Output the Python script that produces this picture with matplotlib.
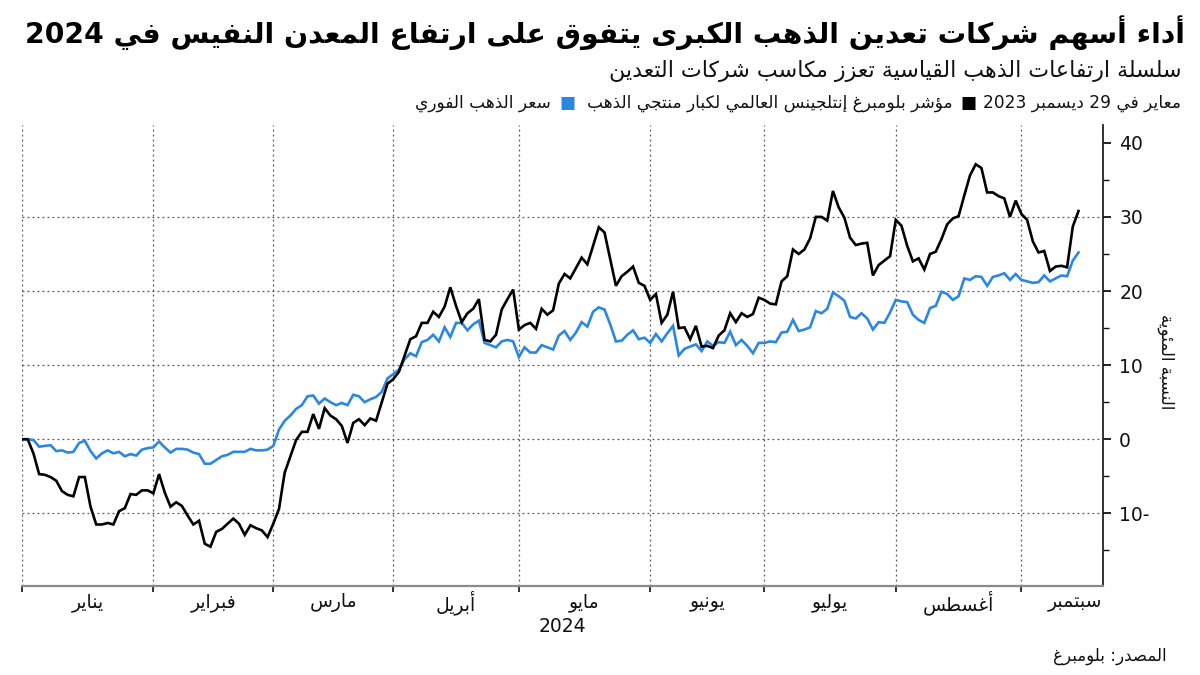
import re
import numpy as np
import matplotlib
matplotlib.use("Agg")
import matplotlib.pyplot as plt

# ---------------- data ----------------
title = "أداء أسهم شركات تعدين الذهب الكبرى يتفوق على ارتفاع المعدن النفيس في 2024"
subtitle = "سلسلة ارتفاعات الذهب القياسية تعزز مكاسب شركات التعدين"
note = "معاير في 29 ديسمبر 2023"
series_names = ["مؤشر بلومبرغ إنتلجينس العالمي لكبار منتجي الذهب", "سعر الذهب الفوري"]
series_colors = ["#000000", "#2b87e0"]
months = ["يناير", "فبراير", "مارس", "أبريل", "مايو", "يونيو", "يوليو", "أغسطس", "سبتمبر"]
month_start_idx = [0, 23, 44, 65, 87, 110, 130, 153, 175]
year_label = "2024"
y_ticks = [-10, 0, 10, 20, 30, 40]
y_tick_labels = ["10-", "0", "10", "20", "30", "40"]
y_label = "النسبة المئوية"
source = "المصدر: بلومبرغ"

miners = [
    0, 0, -1.9, -4.7, -4.8, -5.1, -5.6, -7.0, -7.5, -7.7, -5.1, -5.1, -9.1, -11.5, -11.5, -11.3,
    -11.5, -9.7, -9.3, -7.4, -7.5, -6.9, -6.9, -7.3, -4.7, -7.2, -9.1, -8.5, -9.0, -10.3, -11.5,
    -11.0, -14.1, -14.5, -12.5, -12.1, -11.4, -10.7, -11.4, -12.9, -11.6, -12.0, -12.3, -13.2,
    -11.4, -9.4, -4.5, -2.3,
    -0.1, 1.0, 1.0, 3.4, 1.4, 4.2, 3.2, 2.7, 1.8, -0.5, 2.2, 2.7, 1.9, 2.8, 2.5, 5.0, 7.5, 8.1,
    9.1, 11.3, 13.5, 13.9, 15.7, 15.7, 17.2, 16.5, 17.9, 20.5, 18.0, 15.8, 17.0, 17.6, 18.9, 13.4,
    13.2, 14.1, 17.5, 18.9, 20.2, 14.8, 15.4, 15.7, 14.9, 17.6, 16.8, 17.4, 21.0,
    22.3, 21.7, 23.1, 24.5, 23.6, 26.1, 28.6, 27.9, 24.3, 20.7, 22.0, 22.6, 23.3, 21.1, 20.7, 18.8,
    19.6, 15.7, 16.8, 19.9, 15.0, 15.1, 13.5, 15.3, 12.5, 12.6, 12.3, 14.0, 14.7, 17.0, 15.8, 17.0,
    16.5, 16.9, 19.1, 18.8, 18.3, 18.2, 21.3, 22.0, 25.6, 25.0, 25.6, 27.1, 30.0, 30.0, 29.5,
    33.5, 31.3, 29.9, 27.2, 26.2, 26.4, 26.5, 22.1, 23.5, 24.1, 24.7, 29.6, 28.8, 26.1, 24.0, 24.4,
    22.9, 25.0, 25.3, 27.0, 29.0, 29.8, 30.1, 32.9, 35.6, 37.1, 36.6, 33.3, 33.3, 32.8, 32.5, 30.0,
    32.2, 30.4, 29.6, 26.7, 25.2, 25.4, 22.7, 23.3, 23.4, 23.2, 28.7, 30.8,
]
gold = [
    0, 0, -0.1, -1.0, -0.9, -0.8, -1.6, -1.5, -1.8, -1.7, -0.5, -0.2, -1.6, -2.6, -1.9, -1.5, -1.9,
    -1.7, -2.3, -2.0, -2.2, -1.4, -1.2, -1.1, -0.3, -1.1, -1.8, -1.3, -1.3, -1.4, -1.8, -2.0, -3.3,
    -3.3, -2.8, -2.3, -2.1, -1.7, -1.7, -1.7, -1.3, -1.5, -1.5, -1.4, -0.9, 1.3, 2.5, 3.2,
    4.1, 4.6, 5.8, 5.9, 4.8, 5.5, 5.0, 4.6, 4.9, 4.6, 6.0, 5.8, 5.0, 5.4, 5.7, 6.4, 8.2, 8.8, 9.4,
    10.8, 11.6, 11.2, 13.1, 13.4, 14.1, 13.2, 15.1, 13.8, 15.7, 15.7, 14.7, 15.5, 16.0, 13.0, 12.7,
    12.4, 13.2, 13.4, 13.2, 11.1, 12.4, 11.7, 11.7, 12.7, 12.4, 12.1, 14.0,
    14.6, 13.4, 14.4, 15.8, 15.2, 17.2, 17.8, 17.5, 15.5, 13.2, 13.3, 14.1, 14.7, 13.5, 13.7, 13.0,
    14.2, 13.2, 14.3, 15.3, 11.3, 12.2, 12.5, 12.8, 11.9, 13.2, 12.6, 13.1, 13.0, 14.5, 12.7, 13.4,
    12.6, 11.6, 13.0, 13.0, 13.2, 13.1, 14.4, 14.5, 16.1, 14.6, 14.8, 15.1, 17.3, 17.0, 17.6,
    19.8, 19.3, 18.7, 16.5, 16.3, 17.0, 16.3, 14.8, 15.8, 15.7, 17.1, 18.8, 18.6, 18.5, 16.8, 16.1,
    15.7, 17.7, 18.0, 19.9, 19.6, 18.8, 19.3, 21.7, 21.5, 22.0, 21.9, 20.7, 21.9, 22.1, 22.4, 21.5,
    22.3, 21.5, 21.3, 21.1, 21.2, 22.1, 21.3, 21.7, 22.1, 22.0, 24.1, 25.2,
]

# ---------------- Arabic shaping (presentation forms + visual order) ----------------
_DUAL = {'ئ': 0xFE89, 'ب': 0xFE8F, 'ت': 0xFE95, 'ث': 0xFE99, 'ج': 0xFE9D, 'ح': 0xFEA1,
         'خ': 0xFEA5, 'س': 0xFEB1, 'ش': 0xFEB5, 'ص': 0xFEB9, 'ض': 0xFEBD, 'ط': 0xFEC1,
         'ظ': 0xFEC5, 'ع': 0xFEC9, 'غ': 0xFECD, 'ف': 0xFED1, 'ق': 0xFED5, 'ك': 0xFED9,
         'ل': 0xFEDD, 'م': 0xFEE1, 'ن': 0xFEE5, 'ه': 0xFEE9, 'ي': 0xFEF1}
_RIGHT = {'آ': 0xFE81, 'أ': 0xFE83, 'ؤ': 0xFE85, 'إ': 0xFE87, 'ا': 0xFE8D, 'ة': 0xFE93,
          'د': 0xFEA9, 'ذ': 0xFEAB, 'ر': 0xFEAD, 'ز': 0xFEAF, 'و': 0xFEED, 'ى': 0xFEEF}
_NONJ = {'ء': 0xFE80}
_LAMALEF = {'آ': 0xFEF5, 'أ': 0xFEF7, 'إ': 0xFEF9, 'ا': 0xFEFB}


def _shape(s):
    out = []
    prev = False
    i, n = 0, len(s)
    while i < n:
        c = s[i]
        if c == 'ل' and i + 1 < n and s[i + 1] in _LAMALEF:
            out.append(chr(_LAMALEF[s[i + 1]] + (1 if prev else 0)))
            prev = False
            i += 2
            continue
        nxt = s[i + 1] if i + 1 < n else ''
        nxt_j = nxt in _DUAL or nxt in _RIGHT
        if c in _DUAL:
            if prev and nxt_j:
                off = 3
            elif prev:
                off = 1
            elif nxt_j:
                off = 2
            else:
                off = 0
            out.append(chr(_DUAL[c] + off))
            prev = True
        elif c in _RIGHT:
            out.append(chr(_RIGHT[c] + (1 if prev else 0)))
            prev = False
        elif c in _NONJ:
            out.append(chr(_NONJ[c]))
            prev = False
        else:
            out.append(c)
            prev = False
        i += 1
    return ''.join(out)


def ar(s):
    sh = _shape(s)
    runs = re.findall(r'[0-9A-Za-z%.,]+|[^0-9A-Za-z%.,]+', sh)
    out = []
    for r in reversed(runs):
        if re.match(r'[0-9A-Za-z%.,]', r):
            out.append(r)
        else:
            out.append(r[::-1])
    return ''.join(out)


# ---------------- figure ----------------
plt.rcParams['font.family'] = ['DejaVu Sans']
W, H = 1200, 675
fig = plt.figure(figsize=(W / 100, H / 100), dpi=100)
fig.patch.set_facecolor('white')

ax_l, ax_r, ax_b, ax_t = 22, 1102.5, 586, 125
ax = fig.add_axes([ax_l / W, 1 - ax_b / H, (ax_r - ax_l) / W, (ax_b - ax_t) / H])

x = np.arange(len(miners))
ax.plot(x, gold, color=series_colors[1], lw=1.9, zorder=3, solid_joinstyle='miter')
ax.plot(x, miners, color=series_colors[0], lw=1.9, zorder=4, solid_joinstyle='miter')

ax.set_xlim(0, 189.2)
ax.set_ylim(-19.8, 42.4)

grid_kw = dict(color='#555555', lw=0.9, ls=(0, (1.5, 2.5)), zorder=1)
for yv in y_ticks[:-1]:
    ax.axhline(yv, **grid_kw)
for xv in month_start_idx:
    ax.axvline(xv, **grid_kw)

for s in ['top', 'left']:
    ax.spines[s].set_visible(False)
ax.spines['bottom'].set_color('#8a8a8a')
ax.spines['bottom'].set_linewidth(1.6)
ax.spines['right'].set_color('#222222')
ax.spines['right'].set_linewidth(1.3)

ax.yaxis.tick_right()
ax.set_yticks(y_ticks)
ax.set_yticklabels(y_tick_labels, fontsize=13.5)
ax.set_yticks([-15, -5, 5, 15, 25, 35], minor=True)
ax.tick_params(axis='y', which='major', direction='out', length=6, width=1.3, pad=6, colors='#111111')
ax.tick_params(axis='y', which='minor', direction='out', length=4, width=1.0, colors='#111111')

ax.set_xticks(month_start_idx)
ax.set_xticklabels([])
ax.tick_params(axis='x', which='major', direction='out', length=4, width=1.2, colors='#111111')

xmax = ax.get_xlim()[1]
bounds = month_start_idx + [xmax]
for k, m in enumerate(months):
    if k < len(months) - 1:
        xm, ha = (bounds[k] + bounds[k + 1]) / 2, 'center'
    else:
        xm, ha = xmax, 'right'
    ax.annotate(ar(m), xy=(xm, 0), xycoords=('data', 'axes fraction'), xytext=(0, -17),
                textcoords='offset pixels', ha=ha, va='center', fontsize=13.5, color='#111111')
ax.annotate(year_label, xy=(0.5, 0), xycoords='axes fraction', xytext=(0, -40),
            textcoords='offset pixels', ha='center', va='center', fontsize=13.5, color='#111111')

fig.text(1166 / W, 1 - 362 / H, ar(y_label), rotation=270, ha='center', va='center',
         fontsize=12, color='#111111')

fig.canvas.draw()
renderer = fig.canvas.get_renderer()


def fit(t, target):
    w = t.get_window_extent(renderer).width
    t.set_fontsize(t.get_fontsize() * target / w)


t_title = fig.text(1185 / W, 1 - 33 / H, ar(title), ha='right', va='center', fontsize=22,
                   fontweight='bold', color='#000000')
fit(t_title, 1185 - 28)
t_sub = fig.text(1182 / W, 1 - 71 / H, ar(subtitle), ha='right', va='center', fontsize=16,
                 color='#111111')
fit(t_sub, 1182 - 608)

# legend row (right to left)
pieces = [(ar(note), '#111111', 6), ('■', series_colors[0], 8), (ar(series_names[0]), '#111111', 12),
          ('■', series_colors[1], 8), (ar(series_names[1]), '#111111', 0)]


def place_row(fs, draw):
    xr = 1181
    made = []
    for txt, col, gap in pieces:
        t = fig.text(xr / W, 1 - 103 / H, txt, ha='right', va='center', fontsize=fs, color=col)
        w = t.get_window_extent(renderer).width
        xr -= w + gap
        made.append(t)
    if not draw:
        for t in made:
            t.remove()
    return 1181 - xr


total = place_row(12, False)
fs_leg = 12 * (1181 - 420) / total
place_row(min(fs_leg, 13), True)

fig.text(1167 / W, 1 - 656 / H, ar(source), ha='right', va='center', fontsize=12, color='#111111')

fig.savefig('out.png', dpi=100, facecolor='white')
